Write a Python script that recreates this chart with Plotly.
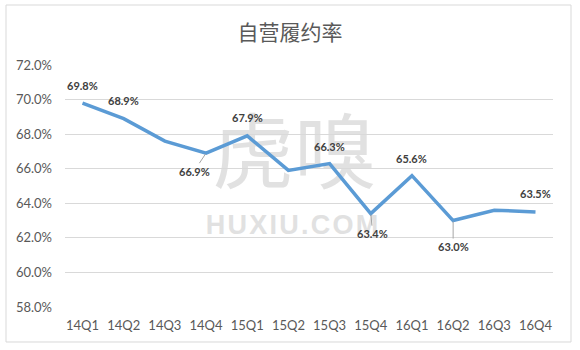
import plotly.graph_objects as go

quarters = ["14Q1", "14Q2", "14Q3", "14Q4", "15Q1", "15Q2",
            "15Q3", "15Q4", "16Q1", "16Q2", "16Q3", "16Q4"]
rates = [69.8, 68.9, 67.6, 66.9, 67.9, 65.9, 66.3, 63.4, 65.6, 63.0, 63.6, 63.5]
y_ticks = [58, 60, 62, 64, 66, 68, 70, 72]
title_text = "自营履约率"

# which points get a data label, and where (pixel offsets, leader line flag)
label_spec = {
    0: (0, 18, False), 1: (0, 18, False), 3: (-12, -18, True), 4: (0, 18, False),
    6: (0, 17, False), 7: (2, -20, True), 8: (0, 17, False), 9: (0, -26, True),
    11: (0, 18, False),
}

fig = go.Figure()
fig.add_trace(go.Scatter(
    x=quarters, y=rates, mode="lines",
    line=dict(color="#5B9BD5", width=3.5),
    hoverinfo="skip", showlegend=False,
))

label_font = dict(family="Lato", size=11, color="#404040", weight="bold")
for i, (dx, dy, leader) in label_spec.items():
    txt = f"{rates[i]:.1f}%"
    if leader:
        fig.add_annotation(x=quarters[i], y=rates[i], text=txt, font=label_font,
                           showarrow=True, arrowhead=0, arrowwidth=1,
                           arrowcolor="#a6a6a6", ax=dx, ay=-dy, standoff=1)
    else:
        fig.add_annotation(x=quarters[i], y=rates[i], text=txt, font=label_font,
                           showarrow=False, xshift=dx, yshift=dy)

# watermark (drawn between gridlines and the line)
fig.add_shape(type="rect", xref="paper", yref="paper", x0=0.28, x1=0.66, y0=0.42, y1=0.8,
              line=dict(width=0), fillcolor="rgba(0,0,0,0)", layer="between",
              label=dict(text="虎嗅", textposition="middle center",
                         font=dict(family="Noto Sans CJK SC", size=82, color="#e1e1e1")))
hs = "\u200a"
fig.add_shape(type="rect", xref="paper", yref="paper", x0=0.28, x1=0.65, y0=0.30, y1=0.40,
              line=dict(width=0), fillcolor="rgba(0,0,0,0)", layer="between",
              label=dict(text=hs.join("HUXIU.COM"), textposition="middle center",
                         font=dict(family="Liberation Sans Narrow, Liberation Sans", size=27,
                                   color="#e1e1e1", weight="bold")))

# chart border
fig.add_shape(type="rect", xref="paper", yref="paper",
              x0=-0.1209, x1=1.0369, y0=-0.1446, y1=1.2479,
              line=dict(color="#d9d9d9", width=1), fillcolor="rgba(0,0,0,0)", layer="below")

fig.update_layout(
    width=580, height=350,
    margin=dict(l=65, r=27, t=65, b=43),
    paper_bgcolor="white", plot_bgcolor="white",
    title=dict(text=title_text, x=0.5, xanchor="center", y=1 - 33 / 350, yanchor="middle",
               font=dict(family="Noto Sans CJK SC", size=21, color="#595959")),
    showlegend=False,
)
fig.update_xaxes(type="category", categoryorder="array", categoryarray=quarters,
                 showgrid=False, showline=False, zeroline=False, ticks="",
                 tickfont=dict(family="Lato", size=13, color="#595959"),
                 ticklabelstandoff=9, fixedrange=True)
fig.update_yaxes(range=[58, 72], tickvals=y_ticks, ticktext=[f"{v:.1f}%" for v in y_ticks],
                 showgrid=True, gridcolor="#d9d9d9", gridwidth=1,
                 showline=False, zeroline=False, ticks="",
                 tickfont=dict(family="Lato", size=13, color="#595959"),
                 ticklabelstandoff=12, fixedrange=True)

fig.write_html("out.html")
